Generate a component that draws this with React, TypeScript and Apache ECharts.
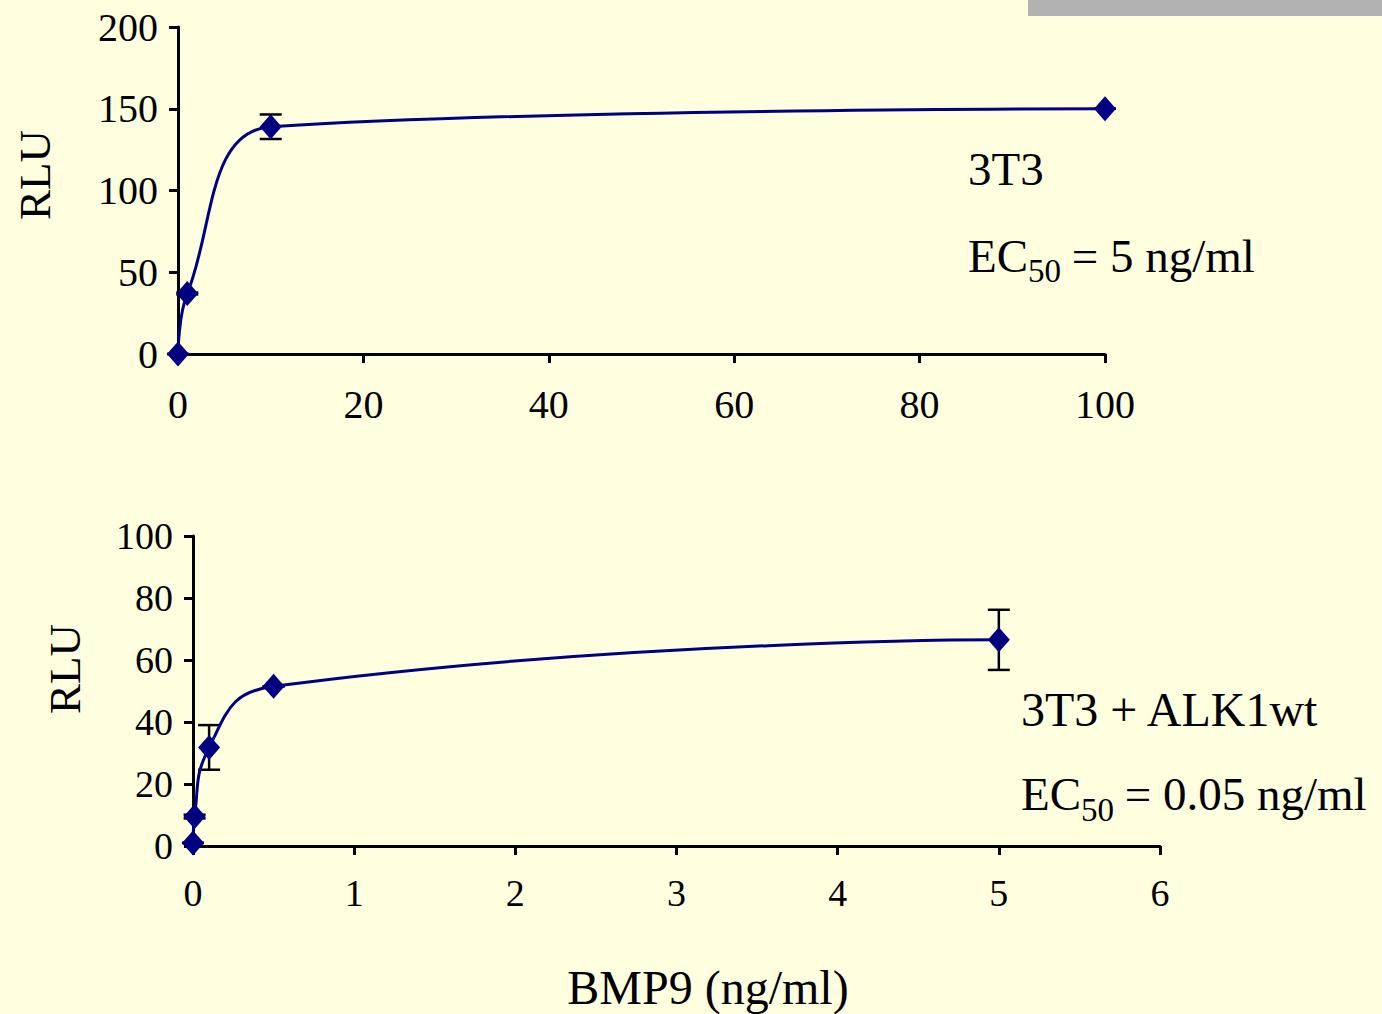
import React, { useEffect, useRef } from "react";
import * as echarts from "echarts";

// Top panel: 3T3
const topX = [0, 1, 10, 100];
const topY = [0, 37, 139, 150];
const topErr = [0, 0.6, 7.5, 0];
const topXTicks = [0, 20, 40, 60, 80, 100];
const topYTicks = [0, 50, 100, 150, 200];

// Bottom panel: 3T3 + ALK1wt
const botX = [0, 0.01, 0.1, 0.5, 5];
const botY = [1, 9.5, 31.8, 51.5, 66.5];
const botErr = [0, 0.6, 7.2, 0, 9.7];
const botXTicks = [0, 1, 2, 3, 4, 5, 6];
const botYTicks = [0, 20, 40, 60, 80, 100];

const FONT = "'Liberation Serif', 'Times New Roman', serif";
const NAVY = "#000080";
const BG = "#FFFFE0";

function errSeries(xs: number[], ys: number[], es: number[], idx: number) {
  return {
    type: "custom",
    xAxisIndex: idx,
    yAxisIndex: idx,
    z: 1,
    silent: true,
    data: xs.map((x, i) => [x, ys[i], es[i]]),
    renderItem: (params: any, api: any) => {
      const x = api.value(0);
      const y = api.value(1);
      const e = api.value(2);
      const t = api.coord([x, y + e]);
      const b = api.coord([x, y - e]);
      const hw = 11;
      const st = { stroke: "#000", lineWidth: 2.5 };
      return {
        type: "group",
        children: [
          { type: "line", shape: { x1: t[0], y1: t[1], x2: b[0], y2: b[1] }, style: st },
          { type: "line", shape: { x1: t[0] - hw, y1: t[1], x2: t[0] + hw, y2: t[1] }, style: st },
          { type: "line", shape: { x1: b[0] - hw, y1: b[1], x2: b[0] + hw, y2: b[1] }, style: st },
        ],
      };
    },
  };
}

function axisCommon(fontSize: number, margin: number) {
  return {
    axisLine: { show: true, onZero: false, lineStyle: { color: "#000", width: 3 } },
    axisTick: { show: true, length: 9, lineStyle: { color: "#000", width: 3 } },
    axisLabel: { color: "#000", fontSize, fontFamily: FONT, margin },
    splitLine: { show: false },
  };
}

export default function App() {
  const ref = useRef<HTMLDivElement>(null);
  useEffect(() => {
    if (!ref.current) return;
    const chart = echarts.init(ref.current, null, { renderer: "svg" });
    const textStyle = (size: number) => ({ fill: "#000", font: `${size}px ${FONT}` });
    chart.setOption({
      animation: false,
      backgroundColor: BG,
      grid: [
        { left: 178, top: 27, width: 927, height: 327 },
        { left: 193, top: 536, width: 967, height: 310 },
      ],
      xAxis: [
        {
          type: "value", gridIndex: 0,
          min: topXTicks[0], max: topXTicks[topXTicks.length - 1], interval: 20,
          ...axisCommon(40, 30),
        },
        {
          type: "value", gridIndex: 1,
          min: botXTicks[0], max: botXTicks[botXTicks.length - 1], interval: 1,
          ...axisCommon(38, 28),
        },
      ],
      yAxis: [
        {
          type: "value", gridIndex: 0,
          min: topYTicks[0], max: topYTicks[topYTicks.length - 1], interval: 50,
          ...axisCommon(40, 20),
        },
        {
          type: "value", gridIndex: 1,
          min: botYTicks[0], max: botYTicks[botYTicks.length - 1], interval: 20,
          ...axisCommon(38, 20),
        },
      ],
      series: [
        errSeries(topX, topY, topErr, 0),
        errSeries(botX, botY, botErr, 1),
        {
          type: "line", xAxisIndex: 0, yAxisIndex: 0, z: 3,
          data: topX.map((x, i) => [x, topY[i]]),
          smooth: 0.38,
          symbol: "diamond", symbolSize: [22, 25], showSymbol: true,
          itemStyle: { color: NAVY },
          lineStyle: { color: NAVY, width: 3 },
        },
        {
          type: "line", xAxisIndex: 1, yAxisIndex: 1, z: 3,
          data: botX.map((x, i) => [x, botY[i]]),
          smooth: 0.5,
          symbol: "diamond", symbolSize: [22, 25], showSymbol: true,
          itemStyle: { color: NAVY },
          lineStyle: { color: NAVY, width: 3 },
        },
      ],
      graphic: [
        { type: "rect", shape: { x: 1028, y: 0, width: 354, height: 16 }, style: { fill: "#B2B2B2" } },
        // top annotations
        { type: "text", x: 968, y: 169, style: { text: "3T3", ...textStyle(47), verticalAlign: "middle" } },
        { type: "text", x: 968, y: 256, style: { text: "EC", ...textStyle(47), verticalAlign: "middle" } },
        { type: "text", x: 1028, y: 271, style: { text: "50", ...textStyle(33), verticalAlign: "middle" } },
        { type: "text", x: 1060, y: 256, style: { text: " = 5 ng/ml", ...textStyle(47), verticalAlign: "middle" } },
        // bottom annotations
        { type: "text", x: 1021, y: 709, style: { text: "3T3 + ALK1wt", ...textStyle(48), verticalAlign: "middle" } },
        { type: "text", x: 1021, y: 794, style: { text: "EC", ...textStyle(47), verticalAlign: "middle" } },
        { type: "text", x: 1081, y: 810, style: { text: "50", ...textStyle(33), verticalAlign: "middle" } },
        { type: "text", x: 1113, y: 794, style: { text: " = 0.05 ng/ml", ...textStyle(47), verticalAlign: "middle" } },
        // axis titles
        { type: "text", x: 35, y: 175, rotation: Math.PI / 2, style: { text: "RLU", ...textStyle(45), align: "center", verticalAlign: "middle" } },
        { type: "text", x: 65, y: 669, rotation: Math.PI / 2, style: { text: "RLU", ...textStyle(45), align: "center", verticalAlign: "middle" } },
        { type: "text", x: 708, y: 987, style: { text: "BMP9 (ng/ml)", ...textStyle(48), align: "center", verticalAlign: "middle" } },
      ],
    });
    return () => chart.dispose();
  }, []);
  return <div ref={ref} style={{ position: "absolute", left: 0, top: 0, width: 1382, height: 1014 }} />;
}
